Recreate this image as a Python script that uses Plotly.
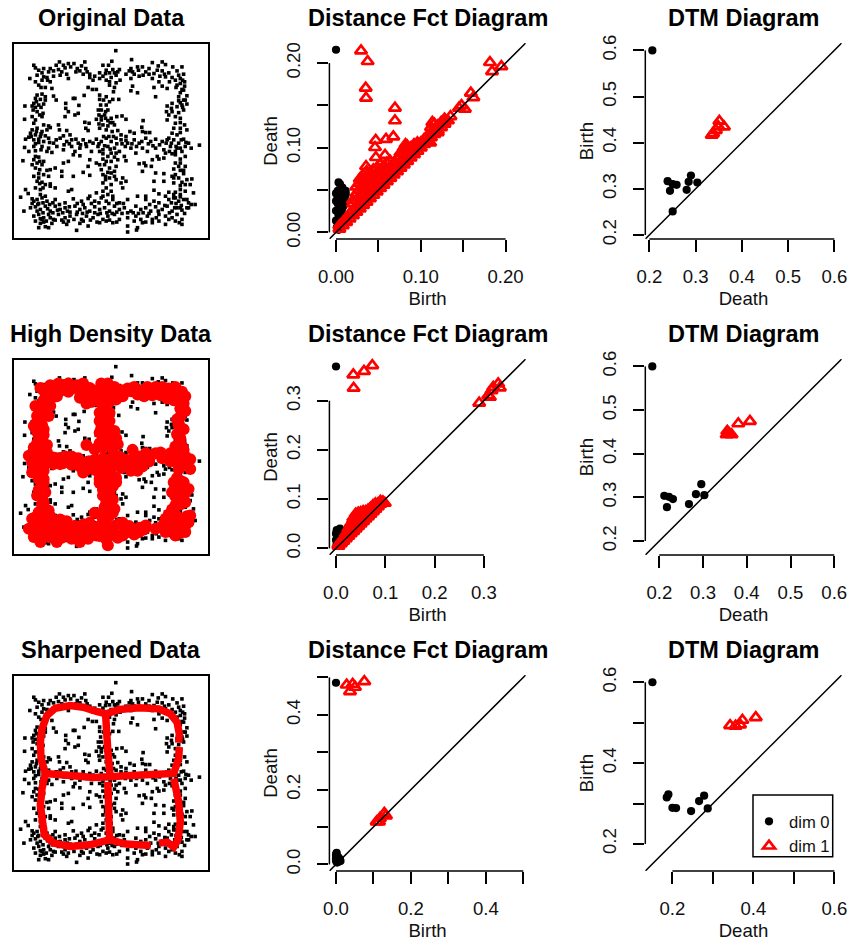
import plotly.graph_objects as go

W, H = 849, 941
COLS = [(13, 209), (329.4, 525.7), (645.3, 841.7)]
ROWS = [(43, 239), (359, 555), (675, 871)]

# ---- point cloud (in units of the hidden panel axes)
CLOUD = [
(349,151),(397,178),
(100,195),(105,203),(178,185),(190,195),(205,190),(222,190),(255,185),(245,197),(337,183),(310,195),(327,195),(460,187),(490,185),(478,197),(500,193),(522,200),(550,200),(395,205),(415,200),(430,200),
(115,210),(125,218),(150,205),(160,212),(175,208),(185,215),(200,222),(232,205),(240,212),(250,222),(262,215),(300,218),(320,210),(340,208),(355,215),(390,212),(405,222),(440,215),(450,222),(475,210),(490,212),(510,218),(535,212),(555,222),
(88,235),(105,245),(125,240),(140,232),(150,245),(180,225),(205,235),(270,232),(280,240),(310,228),(320,240),(335,232),(350,225),(362,240),(395,235),(420,228),(460,235),(480,245),(500,230),(530,240),(545,235),(558,245),
(115,255),(135,262),(155,265),(265,262),(278,268),(290,268),(330,255),(345,262),(342,275),(400,258),(395,272),(415,278),(465,262),(490,258),(505,265),(535,255),(550,268),(558,258),(545,278),
(110,285),(125,282),(105,295),(120,298),(135,290),(160,288),(168,300),(225,295),(253,286),(300,285),(300,298),(320,290),(340,298),(358,298),(470,290),(540,290),(565,287),(555,300),(545,308),(220,295),
(73,318),(100,310),(115,315),(130,312),(98,330),(110,335),(128,340),(197,310),(197,325),(237,316),(205,335),(235,340),(303,315),(320,315),(305,330),(325,330),(505,318),(520,310),(535,320),(550,315),(565,312),(503,335),(520,335),(540,338),(555,330),
(72,358),(95,350),(125,350),(195,350),(225,345),(298,345),(315,345),(335,355),(290,358),(305,360),(325,362),(352,350),(368,348),(380,358),(255,367),(268,370),(432,362),(505,360),(530,370),(545,368),(558,375),(100,370),(130,375),(145,378),(175,375),(310,375),(325,378),(345,375),
(95,390),(110,385),(125,395),(140,390),(150,383),(178,390),(200,392),(258,385),(265,392),(300,385),(320,390),(338,395),(355,392),(428,382),(430,395),(392,395),(405,400),(440,398),(452,398),(525,385),(545,385),(565,390),(520,400),(535,405),(90,400),(105,405),(120,410),(190,408),(210,405),(365,405),(380,410),
(85,412),(100,420),(115,418),(130,425),(145,415),(160,430),(180,415),(200,425),(215,420),(235,430),(250,420),(270,425),(290,418),(305,425),(320,415),(335,425),(350,415),(365,420),(385,430),(405,420),(420,430),(440,415),(455,425),(470,418),(490,425),(510,415),(525,420),(540,430),(555,418),(570,430),(603,436),(75,418),
(72,443),(100,440),(125,440),(145,445),(155,458),(170,440),(190,450),(215,440),(225,455),(240,445),(260,440),(275,455),(295,440),(310,450),(325,440),(345,445),(360,455),(378,440),(395,445),(410,460),(430,445),(445,455),(470,445),(495,450),(515,440),(530,455),(545,445),(560,440),(578,445),(85,455),(105,453),
(220,465),(240,468),(310,462),(325,470),(345,472),(355,480),(375,470),(380,483),(475,470),(500,460),(530,465),(545,478),(560,470),(67,483),(100,480),(115,472),(130,485),(270,480),(290,490),(435,490),(460,480),(480,478),(495,475),(205,485),(310,478),
(95,495),(110,490),(125,495),(190,490),(165,505),(150,510),(140,512),(300,495),(315,495),(330,505),(350,500),(440,498),(457,500),(420,492),(530,490),(545,490),(560,500),(525,508),(545,512),(265,500),(250,518),(185,515),(325,518),(345,515),(430,515),
(100,530),(115,522),(130,525),(145,530),(185,530),(220,530),(270,527),(310,525),(330,535),(350,540),(370,535),(380,545),(470,520),(495,522),(520,530),(540,535),(555,522),(565,540),(580,538),(110,545),(125,548),(150,553),(465,545),(495,545),(525,550),(550,548),(575,555),(310,550),(365,550),
(75,570),(105,565),(120,570),(135,555),(150,560),(205,575),(165,565),(215,570),(320,565),(335,575),(310,575),(370,565),(545,570),(465,572),(510,578),(530,578),(545,585),(560,575),(585,580),(83,582),(120,585),(135,590),(290,580),(440,590),(480,583),(500,590),(415,590),(270,590),
(60,593),(95,598),(110,600),(125,595),(140,605),(165,600),(195,610),(220,598),(245,605),(265,597),(285,605),(305,595),(320,605),(340,600),(360,610),(385,600),(440,600),(465,605),(510,600),(525,595),(540,605),(555,600),(570,610),(590,615),(95,612),(115,612),
(105,622),(120,630),(135,620),(150,635),(165,620),(180,630),(195,625),(210,638),(225,620),(240,630),(255,625),(270,635),(285,622),(300,630),(315,625),(330,635),(345,620),(360,630),(375,625),(395,635),(410,620),(425,630),(440,625),(455,635),(470,622),(490,630),(505,620),(520,635),(535,625),(550,632),(565,625),(70,635),(90,625),
(100,650),(115,645),(130,655),(145,645),(160,660),(175,645),(195,655),(210,650),(230,645),(245,660),(260,650),(280,655),(295,645),(310,660),(325,650),(345,645),(360,660),(385,655),(410,650),(425,660),(445,650),(460,660),(480,645),(500,650),(520,655),(535,645),(550,660),(105,665),(125,660),
(115,685),(135,682),(155,672),(165,662),(200,675),(205,665),(230,693),(250,665),(265,680),(300,670),(320,665),(340,670),(385,680),(385,698),(412,692),(415,685),(430,670),(460,670),(480,665),(500,675),(530,665),(550,675),(130,668),(190,668),
# denser clumps of the bands and columns
(130,205),(145,215),(168,195),(195,203),(212,200),(228,215),(258,205),(270,222),(285,228),(300,235),(318,220),(330,218),(345,218),(360,208),(380,222),(400,215),(418,210),(432,225),(450,205),(465,220),(483,228),(497,222),(520,232),(540,225),(552,240),(110,225),(130,230),(122,262),(142,240),(160,228),(330,245),(350,248),(532,262),(545,250),(555,270),(512,245),
(108,305),(122,322),(105,322),(118,345),(105,360),(135,300),(95,318),(540,302),(552,322),(530,350),(518,325),(510,345),(545,355),(560,300),(298,372),(318,355),(332,368),(305,350),(340,368),(296,330),(312,300),(330,305),(318,335),(545,398),
(92,410),(108,395),(122,402),(135,408),(115,428),(148,428),(168,420),(192,435),(208,432),(228,418),(242,435),(258,432),(280,430),(298,432),(312,410),(328,410),(342,410),(315,438),(332,448),(352,432),(368,432),(380,422),(398,432),(412,440),(428,425),(448,432),(462,438),(482,435),(502,430),(518,430),(532,440),(548,420),(562,428),(520,462),(535,445),(550,455),(505,420),(512,455),(105,432),(122,450),(140,455),(300,455),(335,460),(320,485),(335,485),(350,460),
(105,470),(118,485),(105,505),(118,510),(305,510),(318,530),(335,520),(345,530),(540,500),(555,512),(530,525),(560,555),(545,558),(525,535),(318,540),(335,555),(325,585),(310,590),(340,590),(115,535),(128,565),(118,552),(530,595),(545,592),(565,600),(525,585),
(100,605),(112,615),(128,610),(148,615),(158,610),(178,615),(208,622),(232,612),(250,615),(275,612),(298,610),(328,612),(352,612),(372,612),(452,615),(480,610),(498,618),(518,610),(532,612),(548,618),(570,625),(578,615),(110,635),(128,640),(142,628),(158,640),(172,632),(188,640),(202,635),(232,638),(248,642),(262,638),(285,640),(302,642),(322,640),(338,642),(352,638),(368,642),(385,640),(402,640),(418,642),(432,640),(450,642),(478,635),(512,640),(528,625),(545,625),(558,642),(120,658),(138,665),(150,655),(185,662),(222,660),(240,672),(272,662),(292,668),(330,662),(352,668),(405,665),(440,668),(472,655),(510,660),(542,670),(120,672),(145,685),
]

HIGH_DENSITY = [
(130,222),(150,207),(175,202),(205,202),(230,207),(250,202),(145,237),(130,252),(185,222),(205,227),(240,227),(265,232),(280,222),(305,202),(325,202),(345,212),(300,227),(325,227),(345,232),(365,222),(385,217),(405,212),(430,222),(445,212),(470,212),(490,212),(510,217),(530,212),(550,227),(550,252),(460,237),(485,237),(505,247),(525,252),(275,257),(300,257),(330,257),(260,262),
(125,267),(145,257),(115,292),(135,297),(110,317),(125,327),(110,347),(130,357),
(545,277),(545,302),(540,327),(555,262),
(545,367),(540,387),(555,402),(560,422),(530,392),
(315,277),(320,302),(305,337),(325,327),(310,362),(335,352),(350,367),(300,382),(325,382),(345,387),(260,387),
(110,382),(100,402),(125,402),(140,387),(105,427),(125,432),(145,432),(110,452),(130,447),
(170,427),(195,422),(215,422),(235,427),(190,442),(215,447),(240,452),(265,437),(285,432),(310,427),(335,427),(360,422),(380,432),(260,462),(285,462),(310,452),(340,452),(365,457),(400,402),(420,422),(405,447),(440,412),(470,412),(450,437),(490,427),(515,412),(540,417),(430,452),(515,437),(545,447),(560,447),
(120,487),(130,502),(115,522),(125,542),(125,567),(135,587),(110,612),(105,627),
(300,502),(320,497),(350,487),(310,522),(340,512),(320,562),(340,552),(320,592),(340,592),(285,592),
(535,487),(530,512),(550,512),(530,542),(560,532),(545,567),(520,582),(565,602),(510,597),(535,602),(560,632),(490,632),(510,622),(520,647),(545,652),(540,622),
(100,627),(120,602),(150,602),(125,632),(150,642),(105,647),(130,657),(160,667),(180,612),(200,617),(175,642),(200,647),(185,667),(225,632),(250,627),(270,622),(225,657),(250,657),(280,647),(300,632),(320,627),(300,662),(320,672),(345,632),(370,622),(390,632),(355,667),(345,657),(375,652),(400,647),(420,637),(435,642),(405,657),
(120,215),(160,225),(195,215),(220,215),(270,215),(310,215),(335,215),(395,225),(415,235),(440,230),(470,225),(500,225),(530,230),(560,240),(150,250),(170,240),(240,245),(290,245),(320,245),(350,250),(370,240),(435,240),(480,222),(515,235),
(105,270),(150,270),(110,300),(130,280),(100,330),(145,300),(120,310),(130,340),(115,360),(100,395),(85,420),(95,440),(120,420),(140,410),(160,425),(100,460),(130,465),(95,470),
(300,290),(330,290),(300,315),(330,315),(345,345),(300,350),(330,370),(310,395),(340,400),(355,385),(285,400),
(560,285),(535,310),(555,340),(535,355),(550,390),(575,430),(540,440),
(160,445),(180,445),(205,435),(230,440),(255,445),(275,455),(300,445),(325,455),(350,445),(380,445),(400,430),(425,437),(455,420),(485,410),(510,425),(535,430),(250,470),(300,475),(330,475),(395,465),(415,465),(565,430),(540,460),(575,460),
(115,490),(130,490),(125,510),(110,540),(135,530),(130,560),(115,590),(145,585),(105,605),
(300,490),(325,510),(350,500),(310,540),(330,530),(345,580),(315,575),(330,600),(305,600),
(545,495),(525,500),(555,500),(520,530),(545,540),(570,520),(560,560),(530,570),(575,600),(525,610),(500,610),(545,630),(570,620),(500,650),(560,650),(530,660),
(95,610),(85,640),(110,625),(135,610),(160,625),(100,665),(120,680),(145,665),(170,680),(190,640),(210,640),(160,655),(215,670),(240,640),(265,640),(240,680),(265,670),(290,660),(310,650),(340,650),(360,625),(325,690),(370,660),(390,650),(420,650),(440,630),(470,640),
]

# Sharpened ridges: vertices, None breaks a ridge
SHARP_X = [135,122,120,125,140,165,210,250,290,320,360,420,480,515,535,542,540,None,
           542,540,525,490,430,380,330,280,220,135,None,
           318,320,325,332,None,
           135,125,120,125,132,160,210,270,330,None,
           325,328,330,380,455,None,
           480,505,525,538,545,540,525]
SHARP_Y = [425,380,330,290,250,228,220,225,238,245,232,227,230,245,270,305,332,None,
           345,380,425,428,428,432,435,437,432,425,None,
           245,300,360,435,None,
           425,470,520,570,610,635,645,640,625,None,
           450,520,625,638,642,None,
           635,632,647,625,570,510,440]

# ---- persistence diagrams (first row)
D1_DOT = [(0,0.2157),(0.003,0.059),(0.0075,0.053),(0.0114,0.049),(0.002,0.049),(0,0.037),(0,0.0255),(0,0.0138),
          (0.001,0.006),(0.0067,0.041),(0.0086,0.031),(0.006,0.0216),(0.0047,0.0118),(0.0035,0.031),(0.002,0.041),
          (0.0067,0.047),(0.0106,0.043),(0.0047,0.057),(0.003,0.003),(0,0.046),(0.005,0.05),(0.009,0.037),(0.002,0.034),
          (0.003,0.02),(0.007,0.027),(0.003,0.044),(0.010,0.038),(0.0115,0.045),(0.008,0.05),(0.006,0.035)]
D1_TRI_TOP = [(0.0295,0.2146),(0.0373,0.202),(0.035,0.1705),(0.0354,0.1587),(0.0695,0.147),(0.0695,0.132),
              (0.0468,0.109),(0.046,0.1004),(0.059,0.110),(0.0676,0.113),(0.082,0.104),(0.047,0.0886),(0.0578,0.0913),
              (0.0354,0.078),(0.089,0.1),(0.1815,0.2008),(0.184,0.19),(0.195,0.196),(0.159,0.1646),(0.162,0.1594),
              (0.145,0.147),(0.152,0.1457),(0.1136,0.13),(0.1277,0.13),(0.12,0.118),(0.111,0.106),(0.135,0.137),(0.148,0.15)]
D1_TRI_MASS = {0.004:[0.004,0.008],0.008:[0.008,0.012],0.012:[0.012,0.016],
 0.016:[0.016,0.022],0.020:[0.020,0.026,0.034,0.038],
 0.024:[0.024,0.030,0.038,0.046,0.054],0.028:[0.028,0.034,0.042,0.050,0.058,0.063],
 0.032:[0.032,0.038,0.046,0.054,0.062,0.068],0.036:[0.036,0.042,0.050,0.058,0.066,0.072],
 0.040:[0.040,0.046,0.054,0.062,0.070],0.044:[0.044,0.050,0.058,0.066,0.074],
 0.048:[0.048,0.054,0.062,0.070,0.076],0.052:[0.052,0.058,0.066,0.074,0.080],
 0.056:[0.056,0.062,0.070,0.078],0.060:[0.060,0.066,0.074,0.082],0.064:[0.064,0.070,0.078,0.084],
 0.068:[0.068,0.074,0.082],0.072:[0.072,0.078,0.086],0.076:[0.076,0.082,0.090,0.094],
 0.080:[0.080,0.086,0.094,0.100],0.084:[0.084,0.090,0.098,0.102],0.088:[0.088,0.094,0.100],
 0.092:[0.092,0.098,0.104],0.096:[0.096,0.102,0.106],0.100:[0.100,0.106],0.104:[0.104,0.110],
 0.108:[0.108,0.114],0.112:[0.112,0.118,0.124],0.116:[0.116,0.122,0.128],0.120:[0.120,0.126],
 0.124:[0.124,0.130],0.128:[0.128,0.134],0.132:[0.132]}

# second row
D2_DOT = [(0,0.3696),(0,0.030),(0.0014,0.037),(0.0034,0.024),(0.008,0.04),(0,0.017),(0.001,0.007),(0.005,0.0135),
          (0.004,0.03),(0.003,0.035),(0.002,0.02),(0.006,0.022),(0.01,0.03)]
D2_TRI_TOP = [(0.0351,0.3527),(0.0568,0.36),(0.0736,0.3716),(0.0358,0.3257),(0.2905,0.2953),(0.3122,0.3074),
              (0.319,0.3277),(0.329,0.3345),(0.3324,0.3264),(0.3088,0.3108),(0.3155,0.321)]
D2_TRI_MASS = {0.005:[0.005,0.008],0.010:[0.010,0.014],0.015:[0.015,0.020],
 0.020:[0.020,0.025,0.030],0.025:[0.025,0.032,0.040],
 0.030:[0.030,0.037,0.045,0.050],0.035:[0.035,0.042,0.050,0.058,0.062],
 0.040:[0.040,0.047,0.055,0.063,0.070],0.045:[0.045,0.052,0.060,0.068,0.072],
 0.050:[0.050,0.057,0.065,0.073],0.055:[0.055,0.062,0.070,0.075],0.060:[0.060,0.067,0.075],
 0.065:[0.065,0.072,0.078],0.070:[0.070,0.077,0.082],0.075:[0.075,0.082,0.087],0.080:[0.080,0.087,0.091],
 0.085:[0.085,0.091],0.090:[0.090,0.096],0.095:[0.095],0.099:[0.092]}

# third row
D3_DOT = [(0,0.4857),(0.0018,0.031),(0,0.025),(0,0.016),(0.002,0.007),(0.009,0.0116),(0.0107,0.0134),(0.0036,0.02),(0.004,0.012),
          (0.001,0.028),(0.002,0.018),(0.006,0.01),(0.003,0.005),(0.008,0.008),(0,0.01),(0.007,0.018),(0.012,0.009)]
D3_TRI = [(0.0285,0.480),(0.0445,0.482),(0.0374,0.4625),(0.0756,0.489),(0.0507,0.474),
          (0.1148,0.1143),(0.129,0.1366),(0.1334,0.13),(0.1085,0.114),(0.1174,0.1232)]

# DTM diagrams
T1_DOT = [(0.2065,0.6),(0.2396,0.3165),(0.2447,0.2957),(0.2505,0.2511),(0.2505,0.31),(0.259,0.3086),
          (0.2807,0.2978),(0.285,0.3151),(0.290,0.3288),(0.3038,0.3137)]
T1_TRI = [(0.3514,0.4468),(0.3614,0.4345),(0.338,0.42),(0.335,0.4165),(0.344,0.427),(0.349,0.435)]
T2_DOT = [(0.184,0.6),(0.2114,0.3036),(0.2221,0.3013),(0.2312,0.296),(0.2175,0.2777),(0.2678,0.2846),
          (0.2838,0.3074),(0.296,0.3303),(0.3029,0.3051)]
T2_TRI = [(0.3806,0.469),(0.4072,0.4743),(0.3554,0.4514),(0.36,0.446),(0.3653,0.4438),(0.354,0.4438)]
T3_DOT = [(0.1506,0.6),(0.19,0.3226),(0.186,0.3151),(0.2,0.2894),(0.209,0.2886),(0.2461,0.2812),
          (0.2658,0.306),(0.2782,0.3193),(0.2872,0.2878)]
T3_TRI = [(0.3424,0.4932),(0.356,0.492),(0.367,0.495),(0.3728,0.5064),(0.4058,0.5130)]

TITLES = [["Original Data", "Distance Fct Diagram", "DTM Diagram"],
          ["High Density Data", "Distance Fct Diagram", "DTM Diagram"],
          ["Sharpened Data", "Distance Fct Diagram", "DTM Diagram"]]

TICKS_D1 = ([0, 0.05, 0.10, 0.15, 0.20], ["0.00", "", "0.10", "", "0.20"])
TICKS_D2 = ([0, 0.1, 0.2, 0.3], ["0.0", "0.1", "0.2", "0.3"])
TICKS_D3 = ([0, 0.1, 0.2, 0.3, 0.4, 0.5], ["0.0", "", "0.2", "", "0.4", ""])
TICKS_T12 = ([0.2, 0.3, 0.4, 0.5, 0.6], ["0.2", "0.3", "0.4", "0.5", "0.6"])
TICKS_T3 = ([0.2, 0.3, 0.4, 0.5, 0.6], ["0.2", "", "0.4", "", "0.6"])

RANGES = {(0, 1): (-0.0078, 0.2237), (1, 1): (-0.0134, 0.3848), (2, 1): (-0.0176, 0.5064),
          (0, 2): (0.1913, 0.616), (1, 2): (0.168, 0.617), (2, 2): (0.133, 0.618)}
TICKS = {(0, 1): TICKS_D1, (1, 1): TICKS_D2, (2, 1): TICKS_D3,
         (0, 2): TICKS_T12, (1, 2): TICKS_T12, (2, 2): TICKS_T3}
AXIS_TITLES = {1: ("Birth", "Death"), 2: ("Death", "Birth")}

LW = 1.5
TICK_FONT = dict(family="Liberation Sans", size=18.6, color="#111111")
fig = go.Figure()
layout = dict(width=W, height=H, margin=dict(l=0, r=0, t=0, b=0), paper_bgcolor="white", plot_bgcolor="white",
              showlegend=True, shapes=[], annotations=[], autosize=False)


def names(r, c):
    n = r * 3 + c + 1
    return ("x" if n == 1 else f"x{n}"), ("y" if n == 1 else f"y{n}"), ("xaxis" if n == 1 else f"xaxis{n}"), ("yaxis" if n == 1 else f"yaxis{n}")


def dots(points, xa, ya, legend=False):
    fig.add_trace(go.Scatter(x=[p[0] for p in points], y=[p[1] for p in points], mode="markers", xaxis=xa, yaxis=ya,
                             marker=dict(symbol="circle", size=8.2, color="black", line=dict(width=0)),
                             cliponaxis=False, name="dim 0", showlegend=legend))


def tris(points, xa, ya, legend=False):
    fig.add_trace(go.Scatter(x=[p[0] for p in points], y=[p[1] for p in points], mode="markers", xaxis=xa, yaxis=ya,
                             marker=dict(symbol="triangle-up-open", size=10.5, color="red", line=dict(width=2.7, color="red")),
                             cliponaxis=False, name="dim 1", showlegend=legend))


def flat(mass):
    return [(b, d) for b, ds in mass.items() for d in ds]


PANEL_DATA = {(0, 1): (D1_DOT, D1_TRI_TOP + flat(D1_TRI_MASS)), (1, 1): (D2_DOT, D2_TRI_TOP + flat(D2_TRI_MASS)),
              (2, 1): (D3_DOT, D3_TRI), (0, 2): (T1_DOT, T1_TRI), (1, 2): (T2_DOT, T2_TRI), (2, 2): (T3_DOT, T3_TRI)}

for r in range(3):
    top, bot = ROWS[r]
    for c in range(3):
        l, rt = COLS[c]
        xa, ya, xk, yk = names(r, c)
        inset = 0.7 if c == 0 else 0
        xd = [(l + inset) / W, (rt - inset) / W]
        yd = [1 - (bot - inset) / H, 1 - (top + inset) / H]
        layout["annotations"].append(dict(text=f"<b>{TITLES[r][c]}</b>", x=(l + rt) / 2 / W, y=1 - (top - 25) / H,
                                          xref="paper", yref="paper", xanchor="center", yanchor="middle", showarrow=False,
                                          font=dict(family="Liberation Sans", size=23.5, color="black")))
        if c == 0:
            for k, dom, rng in ((xk, xd, [39, 630]), (yk, yd, [717, 130])):
                layout[k] = dict(domain=dom, range=rng, showticklabels=False, ticks="", showgrid=False, zeroline=False,
                                 showline=True, mirror=True, linecolor="black", linewidth=LW, automargin=False,
                                 anchor=(ya if k == xk else xa))
            fig.add_trace(go.Scatter(x=[p[0] for p in CLOUD], y=[p[1] for p in CLOUD], mode="markers", xaxis=xa, yaxis=ya,
                                     marker=dict(symbol="square", size=3.6, color="black", line=dict(width=0)),
                                     showlegend=False, cliponaxis=False))
            if r == 1:
                fig.add_trace(go.Scatter(x=[p[0] for p in HIGH_DENSITY], y=[p[1] for p in HIGH_DENSITY], mode="markers",
                                         xaxis=xa, yaxis=ya, marker=dict(size=12, color="red", line=dict(width=0)),
                                         showlegend=False))
            if r == 2:
                fig.add_trace(go.Scatter(x=SHARP_X, y=SHARP_Y, mode="lines", xaxis=xa, yaxis=ya,
                                         line=dict(color="red", width=7.5), showlegend=False, connectgaps=False))
            continue
        lo, hi = RANGES[(r, c)]
        tv, tt = TICKS[(r, c)]
        xt, yt = AXIS_TITLES[c]
        common = dict(range=[lo, hi], tickmode="array", tickvals=tv, ticktext=tt, ticks="outside", ticklen=11.5,
                      tickwidth=LW, tickcolor="black", tickfont=TICK_FONT, showgrid=False, zeroline=False, showline=False,
                      ticklabelstandoff=9, automargin=False)
        layout[xk] = dict(domain=xd, anchor=ya, title=dict(text=xt, standoff=6, font=TICK_FONT), tickangle=0, **common)
        layout[yk] = dict(domain=yd, anchor=xa, title=dict(text=yt, standoff=0, font=TICK_FONT), tickangle=-90, **common)
        layout["shapes"].append(dict(type="line", xref=xa, yref=f"{ya} domain", x0=tv[0], x1=tv[-1], y0=0, y1=0,
                                     line=dict(color="black", width=LW)))
        layout["shapes"].append(dict(type="line", xref=f"{xa} domain", yref=ya, x0=0, x1=0, y0=tv[0], y1=tv[-1],
                                     line=dict(color="black", width=LW)))
        d, t = PANEL_DATA[(r, c)]
        is_legend = (r, c) == (2, 2)
        dots(d, xa, ya, is_legend)
        tris(t, xa, ya, is_legend)
        fig.add_trace(go.Scatter(x=[lo, hi], y=[lo, hi], mode="lines", xaxis=xa, yaxis=ya,
                                 line=dict(color="black", width=LW), showlegend=False))

# legend frame and native legend in the last panel
layout["shapes"].append(dict(type="rect", xref="paper", yref="paper", x0=753 / W, x1=832.7 / W, y0=1 - 856.7 / H, y1=1 - 795 / H,
                             line=dict(color="black", width=LW), fillcolor="white", layer="below"))
layout["legend"] = dict(x=749 / W, y=1 - 804 / H, xanchor="left", yanchor="top", bgcolor="rgba(0,0,0,0)", borderwidth=0,
                        font=dict(family="Liberation Sans", size=16.6, color="#111111"), itemwidth=30, tracegroupgap=0)
fig.update_layout(**layout)
fig.write_html("out.html", config={"displayModeBar": False},
               post_script="document.body.style.margin='0';document.body.style.overflow='hidden';")
